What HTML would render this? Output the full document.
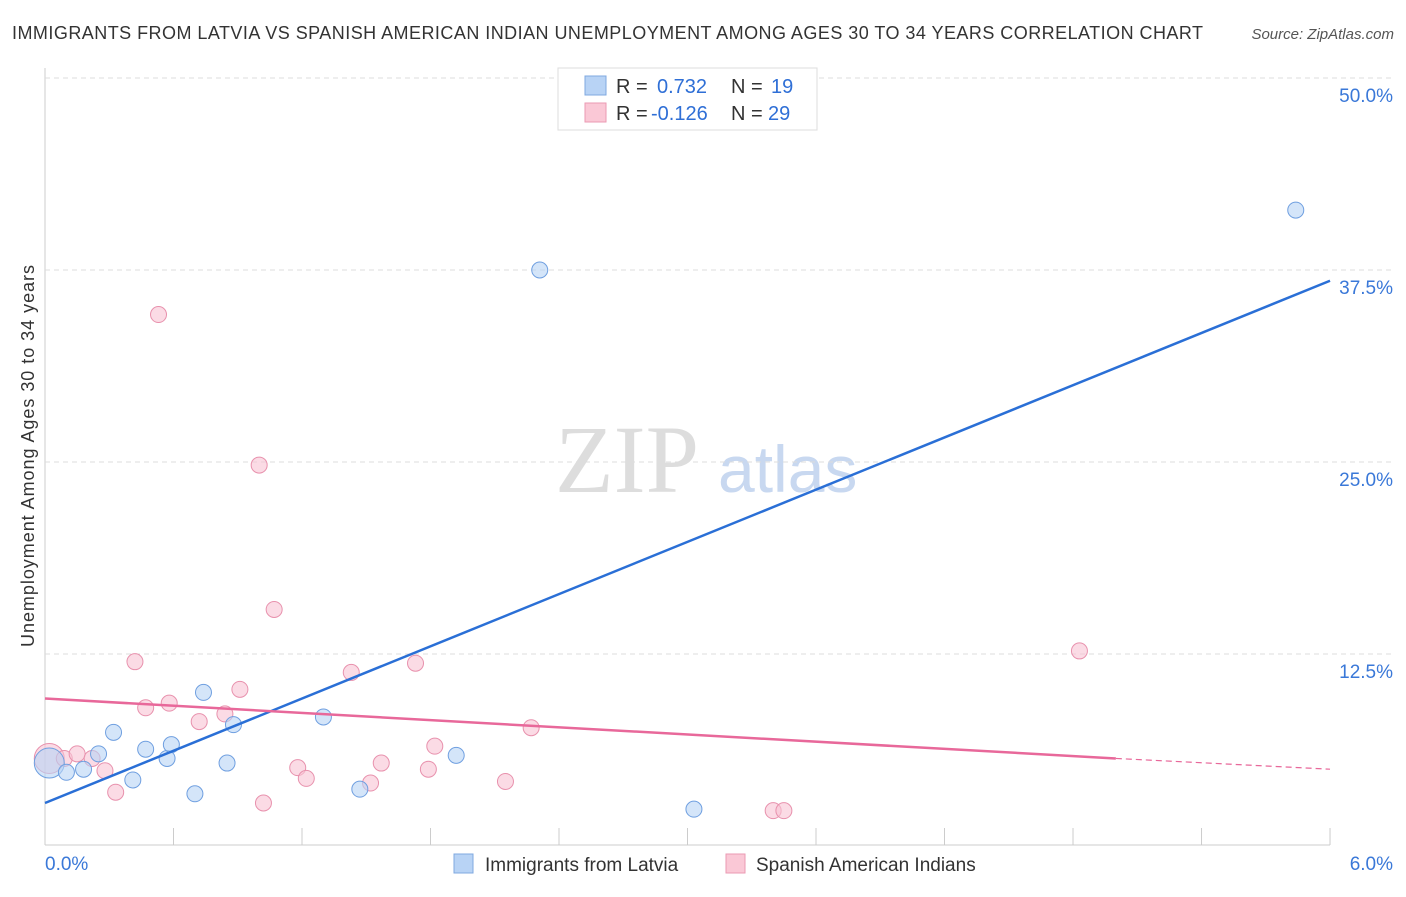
<!DOCTYPE html>
<html><head><meta charset="utf-8"><style>
body{margin:0;background:#fff;font-family:"Liberation Sans",sans-serif;}
svg text{font-family:"Liberation Sans",sans-serif;}
</style></head><body>
<svg id="c" width="1406" height="892">
<text x="12" y="39" font-size="18" fill="#333" textLength="1191">IMMIGRANTS FROM LATVIA VS SPANISH AMERICAN INDIAN UNEMPLOYMENT AMONG AGES 30 TO 34 YEARS CORRELATION CHART</text>
<text x="1394" y="39" font-size="15" fill="#555" font-style="italic" text-anchor="end">Source: ZipAtlas.com</text>
<text x="555" y="492" font-size="96" fill="#ddd" style="font-family:'Liberation Serif',serif">ZIP</text>
<text x="718" y="492" font-size="66" fill="#c8d8f0">atlas</text>
<text transform="translate(34,456) rotate(-90)" font-size="18" fill="#333" text-anchor="middle" textLength="382">Unemployment Among Ages 30 to 34 years</text>
<g id="grid"></g><g id="marks"></g>
<g>
<rect x="558" y="68" width="259" height="62" fill="#fff" stroke="#ddd"/>
<rect x="585" y="76" width="21" height="19" fill="#b8d3f5" stroke="#7fa8e0"/>
<rect x="585" y="103" width="21" height="19" fill="#fac8d6" stroke="#eb9ab3"/>
<text x="616" y="93" font-size="20" fill="#333">R =</text><text x="657" y="93" font-size="20" fill="#2f6fd6">0.732</text>
<text x="731" y="93" font-size="20" fill="#333">N =</text><text x="771" y="93" font-size="20" fill="#2f6fd6">19</text>
<text x="616" y="120" font-size="20" fill="#333">R =</text><text x="651" y="120" font-size="20" fill="#2f6fd6">-0.126</text>
<text x="731" y="120" font-size="20" fill="#333">N =</text><text x="768" y="120" font-size="20" fill="#2f6fd6">29</text>
</g>
<g>
<rect x="454" y="854" width="19" height="19" fill="#b8d3f5" stroke="#7fa8e0"/>
<text x="485" y="871" font-size="19" fill="#333">Immigrants from Latvia</text>
<rect x="726" y="854" width="19" height="19" fill="#fac8d6" stroke="#eb9ab3"/>
<text x="756" y="871" font-size="19" fill="#333">Spanish American Indians</text>
</g>
</svg>
<script>
const xTicks=[0,0.6,1.2,1.8,2.4,3.0,3.6,4.2,4.8,5.4,6.0];
const yTicks=[12.5,25,37.5,50];
const yTickLabels=["12.5%","25.0%","37.5%","50.0%"];
const blueX=[0.02,0.10,0.18,0.25,0.32,0.41,0.47,0.57,0.59,0.70,0.74,0.85,0.88,1.30,1.47,1.92,2.31,3.03,5.84];
const blueY=[5.4,4.8,5.0,6.0,7.4,4.3,6.3,5.7,6.6,3.4,10.0,5.4,7.9,8.4,3.7,5.9,37.5,2.4,41.4];
const pinkX=[0.02,0.09,0.15,0.22,0.28,0.33,0.42,0.47,0.53,0.58,0.72,0.84,0.91,1.00,1.02,1.07,1.18,1.22,1.43,1.52,1.57,1.73,1.79,1.82,2.15,2.27,3.40,3.45,4.83];
const pinkY=[5.7,5.7,6.0,5.7,4.9,3.5,12.0,9.0,34.6,9.3,8.1,8.6,10.2,24.8,2.8,15.4,5.1,4.4,11.3,4.1,5.4,11.9,5.0,6.5,4.2,7.7,2.3,2.3,12.7];
const blueTrend=[0,2.8,6.0,36.8];
const pinkTrend=[0,9.6,5.0,5.7,6.0,5.0];
const X=v=>45+v*214.17, Y=v=>846-v*15.36, NS="http://www.w3.org/2000/svg";
function mk(t,a,p){const e=document.createElementNS(NS,t);for(const k in a)e.setAttribute(k,a[k]);p.appendChild(e);return e;}
const g=document.getElementById('grid'),m=document.getElementById('marks');
mk('line',{x1:45,y1:845,x2:1330,y2:845,stroke:'#ccc'},g);
mk('line',{x1:45,y1:68,x2:45,y2:845,stroke:'#ccc'},g);
xTicks.forEach(t=>{const l=mk('line',{x1:X(t),y1:828,x2:X(t),y2:845,stroke:'#ccc'},g);

});
yTicks.forEach((t,i)=>{const l=mk('line',{x1:45,y1:Y(t),x2:1394,y2:Y(t),stroke:'#ddd','stroke-dasharray':'5,4'},g);


const tx=mk('text',{x:1393,y:Y(t)+24,'font-size':19,fill:'#3a78d8','text-anchor':'end'},g);tx.textContent=yTickLabels[i];

});
const x0=mk('text',{x:45,y:870,'font-size':19,fill:'#3a78d8'},g);x0.textContent='0.0%';


const x1=mk('text',{x:1393,y:870,'font-size':19,fill:'#3a78d8','text-anchor':'end'},g);x1.textContent='6.0%';


function dots(xs,ys,fill,st,name){xs.forEach((x,i)=>{const c=mk('circle',{cx:X(x),cy:Y(ys[i]),r:i==0?15:8,fill:fill,stroke:st,'fill-opacity':0.6},m);

});}
dots(pinkX,pinkY,'#f8c3d3','#e891ad','pink-point');
dots(blueX,blueY,'#b8d3f5','#6f9fe0','blue-point');
const bl=mk('line',{x1:X(blueTrend[0]),y1:Y(blueTrend[1]),x2:X(blueTrend[2]),y2:Y(blueTrend[3]),stroke:'#2a6fd6','stroke-width':2.5},m);


const pl=mk('line',{x1:X(pinkTrend[0]),y1:Y(pinkTrend[1]),x2:X(pinkTrend[2]),y2:Y(pinkTrend[3]),stroke:'#e8689a','stroke-width':2.5},m);


const pd=mk('line',{x1:X(pinkTrend[2]),y1:Y(pinkTrend[3]),x2:X(pinkTrend[4]),y2:Y(pinkTrend[5]),stroke:'#e8689a','stroke-width':1.2,'stroke-dasharray':'6,4'},m);


</script>
</body></html>
